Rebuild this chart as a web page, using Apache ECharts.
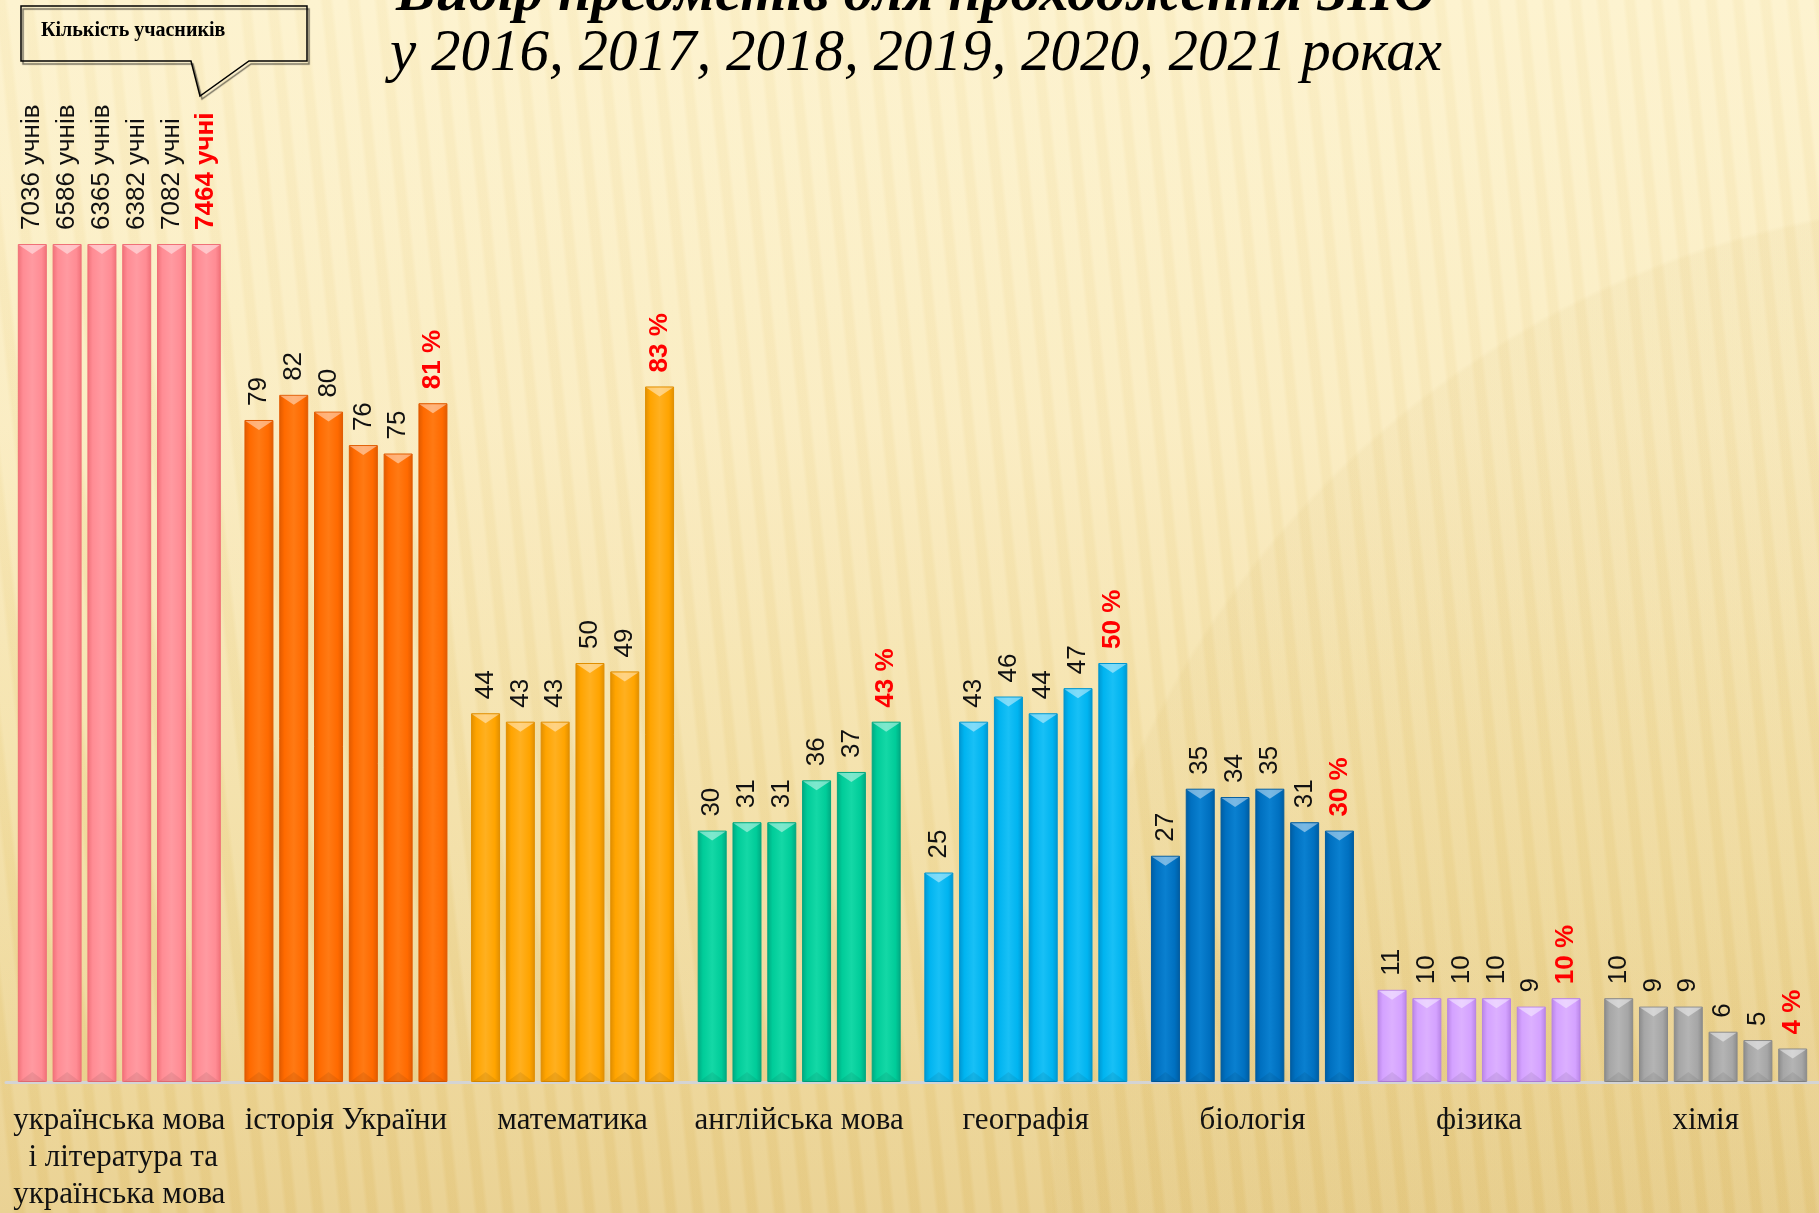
<!DOCTYPE html>
<html lang="uk">
<head>
<meta charset="UTF-8">
<title>Вибір предметів ЗНО</title>
<style>
  html, body { margin: 0; padding: 0; }
  body {
    width: 1819px; height: 1213px; overflow: hidden;
    background:
      radial-gradient(circle 950px at 2000px 1150px, rgba(190,150,50,0.06) 99.5%, rgba(190,150,50,0) 100%),
      repeating-linear-gradient(84deg, rgba(255,255,255,0.10) 0px, rgba(255,255,255,0.10) 12px, rgba(190,150,60,0.045) 16px, rgba(190,150,60,0.045) 23px, rgba(255,255,255,0.10) 27px),
      linear-gradient(180deg, #FDF2CB 0%, #FAEBBD 35%, #F2DDA0 70%, #E8CD88 100%);
  }
  #chart { width: 1819px; height: 1213px; }
</style>
</head>
<body>
<div id="chart"></div>
<script src="https://cdn.jsdelivr.net/npm/echarts@6/dist/echarts.min.js"></script>
<script>
    // предмети
    var subjects = ['українська мова\n і література та\nукраїнська мова', 'історія України', 'математика',
        'англійська мова', 'географія', 'біологія', 'фізика', 'хімія'];
    var years = ['2016', '2017', '2018', '2019', '2020', '2021'];

    // відсоток учасників, українську складають усі (100)
    var y2016 = [100, 79, 44, 30, 25, 27, 11, 10];
    var y2017 = [100, 82, 43, 31, 43, 35, 10, 9];
    var y2018 = [100, 80, 43, 31, 46, 34, 10, 9];
    var y2019 = [100, 76, 50, 36, 44, 35, 10, 6];
    var y2020 = [100, 75, 49, 37, 47, 31, 9, 5];
    var y2021 = [100, 81, 83, 43, 50, 30, 10, 4];
    var byYear = [y2016, y2017, y2018, y2019, y2020, y2021];

    // кількість учасників (підписи першої групи)
    var ukrCounts = ['7036 учнів', '6586 учнів', '6365 учнів', '6382 учні', '7082 учні', '7464 учні'];

    var colors = [
        ['#F07078', '#FF8C94', '#FF9AA1'],
        ['#E05A00', '#FF6A00', '#FF7A14'],
        ['#E08E00', '#FFA400', '#FFB020'],
        ['#00A880', '#00CC99', '#14D8A6'],
        ['#0096D0', '#00B4F0', '#18C0F6'],
        ['#005CA0', '#0070C0', '#0A80D0'],
        ['#B884E6', '#D4A2FF', '#DCB0FF'],
        ['#8A8A8A', '#A6A6A6', '#B4B4B4']
    ];

    var BW = 29, GAP = 5.8;

    var chart = echarts.init(document.getElementById('chart'), null, {renderer: 'canvas'});

    function grad(c) {
        return new echarts.graphic.LinearGradient(0, 0, 1, 0, [
            {offset: 0, color: c[0]},
            {offset: 0.18, color: c[1]},
            {offset: 0.5, color: c[2]},
            {offset: 0.82, color: c[1]},
            {offset: 1, color: c[0]}
        ]);
    }

    var series = [];
    byYear.forEach(function (vals, i) {
        var last = i === byYear.length - 1;
        series.push({
            name: years[i],
            type: 'bar',
            barWidth: BW,
            barGap: (GAP / BW * 100) + '%',
            data: vals.map(function (v, j) {
                return {value: v, itemStyle: {color: grad(colors[j]), borderColor: colors[j][0], borderWidth: 1}};
            }),
            label: {
                show: true,
                position: 'top',
                rotate: 90,
                align: 'left',
                verticalAlign: 'middle',
                distance: 14,
                fontFamily: 'Liberation Sans',
                fontSize: 26,
                color: last ? '#FF0000' : '#111',
                fontWeight: last ? 'bold' : 'normal',
                formatter: function (p) {
                    if (p.dataIndex === 0) return ukrCounts[i];
                    return last ? p.value + ' %' : '' + p.value;
                }
            },
            z: 2
        });
    });

    // фаска зверху кожного стовпчика
    var bevelData = [];
    byYear.forEach(function (vals, i) {
        vals.forEach(function (v, j) { bevelData.push([j, v, i]); });
    });
    series.push({
        type: 'custom',
        silent: true,
        z: 3,
        encode: {x: 0, y: 1},
        data: bevelData,
        renderItem: function (params, api) {
            var j = api.value(0), v = api.value(1), i = api.value(2);
            var top = api.coord([j, v]);
            var base = api.coord([j, 0]);
            var groupW = byYear.length * BW + (byYear.length - 1) * GAP;
            var x = top[0] - groupW / 2 + i * (BW + GAP);
            var t = top[1];
            return {
                type: 'group',
                children: [
                    {type: 'polygon', shape: {points: [[x + 1, t + 1], [x + BW - 1, t + 1], [x + BW / 2, t + 10]]},
                        style: {fill: 'rgba(255,255,255,0.45)'}},
                    {type: 'polygon', shape: {points: [[x + 1, base[1]], [x + BW - 1, base[1]], [x + BW / 2, base[1] - 10]]},
                        style: {fill: 'rgba(0,0,0,0.07)'}}
                ]
            };
        }
    });

    chart.setOption({
        backgroundColor: 'transparent',
        animation: false,
        grid: {left: 6, right: 0, top: 244, bottom: 131},
        xAxis: {
            type: 'category',
            data: subjects,
            axisTick: {show: false},
            axisLine: {lineStyle: {color: '#D4D4D4', width: 3}},
            axisLabel: {
                interval: 0,
                margin: 20,
                fontFamily: 'Liberation Serif',
                fontSize: 31,
                lineHeight: 37,
                color: '#111'
            }
        },
        yAxis: {type: 'value', min: 0, max: 100, show: false},
        graphic: [
            {
                type: 'text', z: 10,
                style: {text: 'Вибір предметів для проходження ЗНО', font: 'italic bold 59px "Liberation Serif"', fill: '#000',
                    x: 916, y: -35, align: 'center', verticalAlign: 'top'}
            },
            {
                type: 'text', z: 10,
                style: {text: 'у 2016, 2017, 2018, 2019, 2020, 2021 роках', font: 'italic 59px "Liberation Serif"', fill: '#000',
                    x: 916, y: 54, align: 'center', verticalAlign: 'middle'}
            },
            {
                type: 'polygon', z: 10,
                shape: {points: [[21, 6], [307, 6], [307, 61], [249, 61], [200, 96], [191, 61], [21, 61]]},
                style: {fill: 'rgba(255,255,255,0)', stroke: '#000', lineWidth: 1.5,
                    shadowColor: 'rgba(0,0,0,0.55)', shadowOffsetX: 2, shadowOffsetY: 3, shadowBlur: 1}
            },
            {
                type: 'text', z: 11,
                style: {text: 'Кількість учасників', font: 'bold 20px "Liberation Serif"', fill: '#000',
                    x: 41, y: 31, verticalAlign: 'middle'}
            }
        ],
        series: series
    });
</script>
</body>
</html>
